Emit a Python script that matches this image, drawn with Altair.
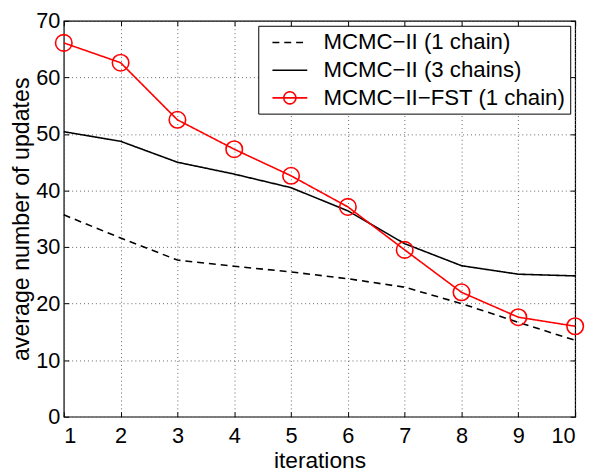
import altair as alt
import pandas as pd

iterations = list(range(1, 11))
series_names = ["MCMC−II (1 chain)", "MCMC−II (3 chains)", "MCMC−II−FST (1 chain)"]
one_chain = [35.7, 31.6, 27.7, 26.6, 25.6, 24.4, 22.9, 20.0, 16.7, 13.5]
three_chains = [50.4, 48.7, 45.0, 42.9, 40.5, 36.4, 30.6, 26.7, 25.2, 24.9]
fst_chain = [66.1, 62.6, 52.5, 47.3, 42.6, 37.1, 29.5, 22.0, 17.6, 16.0]
colors = ["black", "black", "#ff0000"]
dashes = [[7, 5], [1, 0], [1, 0]]
legend_paths = [
    "M-1.47,0H1.47",
    "M-1.47,0H1.47",
    "M-1.47,0H1.47M0.51,0A0.51,0.51 0 1 1 -0.51,0A0.51,0.51 0 1 1 0.51,0Z",
]

rows = []
for name, vals in zip(series_names, [one_chain, three_chains, fst_chain]):
    for it, v in zip(iterations, vals):
        rows.append({"iter": it, "value": v, "series": name})
df = pd.DataFrame(rows)
df_fst = df[df["series"] == series_names[2]]

FONT = "Liberation Sans"
xscale = alt.Scale(domain=[1, 10], nice=False, zero=False)
yscale = alt.Scale(domain=[0, 70], nice=False)

xaxis = alt.Axis(values=iterations, orient="bottom", offset=-5, tickSize=5, domain=False,
                 labelFontSize=22, titleFontSize=23, labelPadding=9, titlePadding=3,
                 grid=True, gridDash=[1, 3], gridColor="#666", tickColor="black",
                 labelColor="black", titleColor="black", titleFontWeight="normal",
                 labelFont=FONT, titleFont=FONT, title="iterations")
yaxis = alt.Axis(values=list(range(0, 71, 10)), orient="left", offset=-5, tickSize=5, domain=False,
                 labelFontSize=22, titleFontSize=23.5, labelPadding=4, titlePadding=2,
                 grid=True, gridDash=[1, 3], gridColor="#666", tickColor="black",
                 labelColor="black", titleColor="black", titleFontWeight="normal",
                 labelFont=FONT, titleFont=FONT, title="average number of updates")
xaxis_top = alt.Axis(values=iterations, orient="top", offset=-5, tickSize=5, domain=False,
                     labels=False, grid=False, title=None, tickColor="black")
yaxis_right = alt.Axis(values=list(range(0, 71, 10)), orient="right", offset=-5, tickSize=5,
                       domain=False, labels=False, grid=False, title=None, tickColor="black")

lines = alt.Chart(df).mark_line(strokeWidth=1.6).encode(
    x=alt.X("iter:Q", scale=xscale, axis=xaxis),
    y=alt.Y("value:Q", scale=yscale, axis=yaxis),
    color=alt.Color("series:N", scale=alt.Scale(domain=series_names, range=colors), legend=None),
    strokeDash=alt.StrokeDash("series:N", scale=alt.Scale(domain=series_names, range=dashes),
                              legend=None),
    detail="series:N",
)

circles = alt.Chart(df_fst).mark_point(shape="circle", filled=False, size=280,
                                       strokeWidth=1.6, color="#ff0000", opacity=1).encode(
    x=alt.X("iter:Q", scale=xscale, axis=xaxis_top),
    y=alt.Y("value:Q", scale=yscale, axis=yaxis_right),
)

legend = alt.Legend(title=None, orient="top-right", offset=5, padding=4,
                    strokeColor="black", fillColor="white", labelFontSize=22.5,
                    labelFont=FONT, labelColor="black", symbolSize=576,
                    symbolStrokeWidth=1.6, symbolOffset=15, labelOffset=21, rowPadding=3,
                    symbolFillColor="white", labelLimit=400,
                    labelExpr="datum.label + '\u00a0\u00a0'")

legend_layer = alt.Chart(df).transform_filter("false").mark_point(
    filled=False, strokeWidth=1.6, opacity=1).encode(
    x=alt.X("iter:Q", scale=xscale, axis=None),
    y=alt.Y("value:Q", scale=yscale, axis=None),
    color=alt.Color("series:N", scale=alt.Scale(domain=series_names, range=colors), legend=legend),
    shape=alt.Shape("series:N", scale=alt.Scale(domain=series_names, range=legend_paths),
                    legend=legend),
    strokeDash=alt.StrokeDash("series:N", scale=alt.Scale(domain=series_names, range=dashes),
                              legend=legend),
)

chart = alt.layer(lines, circles, legend_layer).resolve_axis(
    x="independent", y="independent"
).resolve_scale(
    color="independent", strokeDash="independent", shape="independent"
).properties(
    width=518, height=401,
    autosize=alt.AutoSizeParams(type="none"),
    padding={"left": 56.5, "top": 10, "right": 12, "bottom": 54},
).configure(font=FONT).configure_view(stroke="black", strokeWidth=1.2)

chart.save("out.html", embed_options={"renderer": "svg", "actions": False})
